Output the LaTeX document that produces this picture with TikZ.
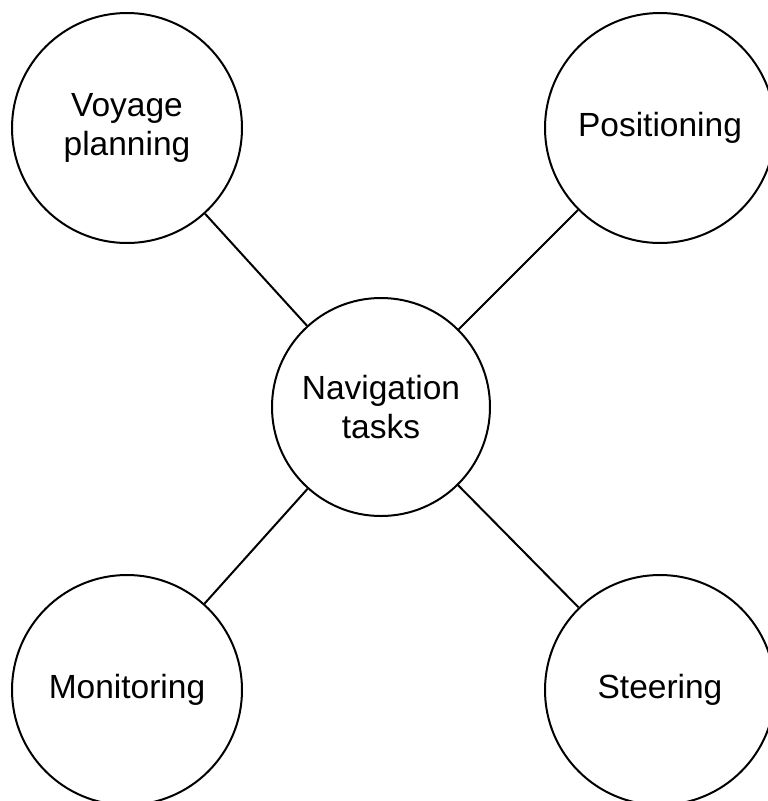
\documentclass[tikz,border=0pt]{standalone}
\usepackage{fontspec}
\setmainfont{Liberation Sans}
\usetikzlibrary{positioning}

\begin{document}
\begin{tikzpicture}[x=1pt, y=-1pt,
        task/.style={circle, draw, line width=2pt, inner sep=0pt, minimum size=230pt, align=center, font=\fontsize{33.5}{39}\selectfont},
        link/.style={line width=2pt}]
        \useasboundingbox (0,0) rectangle (768,801);

        \node[task, minimum size=218pt] (nav) at (381,407) {Navigation\\tasks};
        \node[task] (voyage) at (127,128) {Voyage\\planning};
        \node[task] (pos) at (660,128) {Positioning};
        \node[task] (mon) at (127,690) {Monitoring};
        \node[task] (steer) at (660,690) {Steering};

        \draw[link] (nav) -- (voyage);
        \draw[link] (nav) -- (pos);
        \draw[link] (nav) -- (mon);
        \draw[link] (nav) -- (steer);
    \end{tikzpicture}
\end{document}
